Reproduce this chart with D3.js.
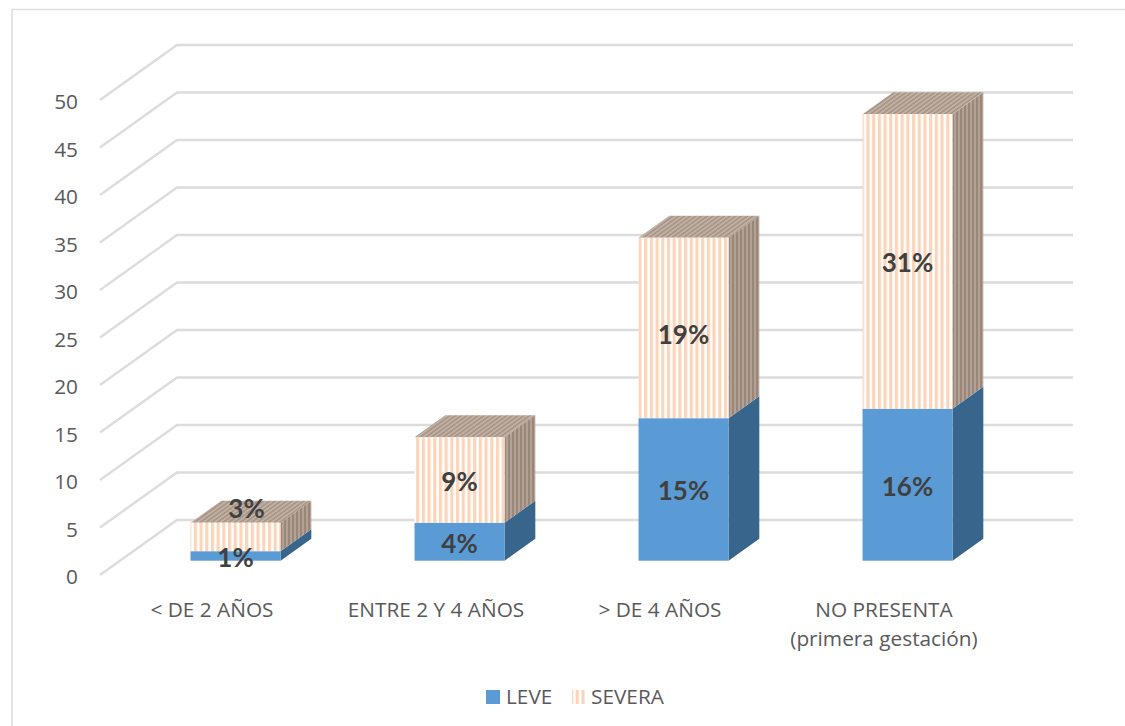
<!DOCTYPE html>
<html><head><meta charset="utf-8">
<script src="https://cdn.jsdelivr.net/npm/d3@7/dist/d3.min.js"></script>
<style>html,body{margin:0;padding:0;background:#fff}svg{display:block}</style>
</head><body><div id="c"></div>
<script>
const categories = ["< DE 2 AÑOS","ENTRE 2 Y 4 AÑOS","> DE 4 AÑOS","NO PRESENTA"];
const categorySub = ["","","","(primera gestación)"];
const leve = [1,4,15,16];
const severa = [3,9,19,31];
const leveLabels = ["1%","4%","15%","16%"];
const severaLabels = ["3%","9%","19%","31%"];
const ticks = [0,5,10,15,20,25,30,35,40,45,50];
const seriesNames = ["LEVE","SEVERA"];

const W=1125,H=726;
const FONT="'Open Sans', 'Noto Sans', sans-serif";
const LABELFONT="Lato, sans-serif";
const TEXT=20.8;
const svg=d3.select("#c").append("svg").attr("width",W).attr("height",H);
const defs=svg.append("defs");
function stripes(id,bg,fg,period,w){
  const p=defs.append("pattern").attr("id",id).attr("patternUnits","userSpaceOnUse").attr("width",period).attr("height",8);
  p.append("rect").attr("width",period).attr("height",8).attr("fill",bg);
  p.append("rect").attr("width",w).attr("height",8).attr("fill",fg);
}
stripes("sf","#ffffff","#fbd5b9",5.7,3.2);
stripes("ss","#b3a193","#98877a",4,2);
const pt=defs.append("pattern").attr("id","st").attr("patternUnits","userSpaceOnUse").attr("width",5.7).attr("height",8).attr("patternTransform","skewX(-54)");
pt.append("rect").attr("width",5.7).attr("height",8).attr("fill","#bfb2a8");
pt.append("rect").attr("width",3).attr("height",8).attr("fill","#ab9686");

const x=d3.scaleBand().domain(categories).range([100,996]);
const y=d3.scaleLinear().domain([0,50]).range([575,100]);
const dx=d3.scaleLinear().domain([0,1]).range([0,77]);
const dy=d3.scaleLinear().domain([0,1]).range([0,-55]);
const P=(px,v,d)=>[px+dx(d),y(v)+dy(d)];
const line=d3.line();
const GRID="#dcdcdc";

// frame
svg.append("path").attr("d","M1125,9.5H12V726").attr("fill","none").attr("stroke","#dedede").attr("stroke-width",1.6);

// walls
const grid=svg.append("g").attr("fill","none").attr("stroke",GRID).attr("stroke-width",2.4);
ticks.forEach(t=>{
  grid.append("path").attr("d",line([P(100,t,0),P(100,t,1),P(996,t,1)]));
});
// y ticks
svg.append("g").selectAll("text").data(ticks).join("text")
  .attr("x",78).attr("y",d=>y(d)+9).attr("text-anchor","end")
  .attr("font-family",FONT).attr("font-size",TEXT).attr("fill","#595959").text(d=>d);

// bars
const d0=0.26,d1=0.66,bw=90,shift=3.5;
function box(g,cat,v0,v1,front,side,top){
  const l=x(cat)+x.bandwidth()/2-bw/2+shift, r=l+bw;
  g.append("path").attr("fill",side).attr("d",line([P(r,v0,d0),P(r,v0,d1),P(r,v1,d1),P(r,v1,d0)])+"Z");
  if(top) g.append("path").attr("fill",top).attr("d",line([P(l,v1,d0),P(r,v1,d0),P(r,v1,d1),P(l,v1,d1)])+"Z");
  g.append("rect").attr("x",P(l,0,d0)[0]).attr("width",bw).attr("y",P(l,v1,d0)[1]).attr("height",y(v0)-y(v1)).attr("fill",front);
}
const bars=svg.append("g");
categories.forEach((c,i)=>{
  const g=bars.append("g");
  box(g,c,0,leve[i],"#5b9bd5","#38658c",null);
  box(g,c,leve[i],leve[i]+severa[i],"url(#sf)","url(#ss)","url(#st)");
});
// labels: the small first bar and the third bar carry manual nudges, as in the source chart
const lab=svg.append("g").attr("font-family",LABELFONT).attr("font-weight",700).attr("font-size",26).attr("fill","#404040").attr("text-anchor","middle");
const nudgeX=i=>i===0?11:0;
const nudgeY=i=>i===0?-28:(i===2?7:2);
categories.forEach((c,i)=>{
  const cx=x(c)+x.bandwidth()/2+shift+dx(d0);
  lab.append("text").attr("x",cx).attr("y",y(leve[i]/2)+dy(d0)+11).text(leveLabels[i]);
  lab.append("text").attr("x",cx+nudgeX(i)).attr("y",y(leve[i]+severa[i]/2)+dy(d0)+9+nudgeY(i)).text(severaLabels[i]);
});
// category labels
const cl=svg.append("g").attr("font-family",FONT).attr("font-size",TEXT).attr("fill","#595959").attr("text-anchor","middle");
categories.forEach((c,i)=>{
  const cx=x(c)+x.bandwidth()/2;
  cl.append("text").attr("x",cx).attr("y",617).text(c);
  if(categorySub[i]) cl.append("text").attr("x",cx).attr("y",646).text(categorySub[i]);
});
// legend
const lg=svg.append("g").attr("font-family",FONT).attr("font-size",TEXT).attr("fill","#595959");
lg.append("rect").attr("x",486).attr("y",690).attr("width",14).attr("height",14).attr("fill","#5b9bd5");
lg.append("text").attr("x",506).attr("y",704).text(seriesNames[0]);
lg.append("rect").attr("x",572).attr("y",690).attr("width",13).attr("height",14).attr("fill","url(#sf)");
lg.append("text").attr("x",591).attr("y",704).text(seriesNames[1]);
</script></body></html>
